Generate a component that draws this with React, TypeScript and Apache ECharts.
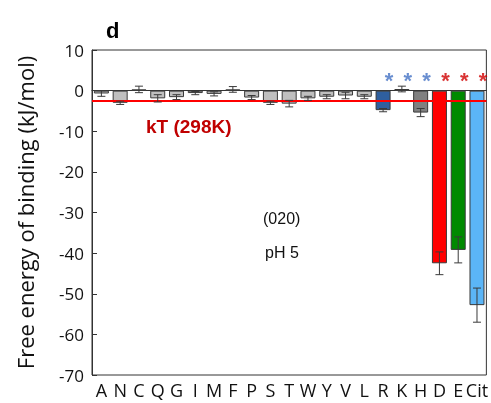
import React, { useEffect, useRef } from "react";
import * as echarts from "echarts";

const categories = ["A", "N", "C", "Q", "G", "I", "M", "F", "P", "S", "T", "W", "Y", "V", "L", "R", "K", "H", "D", "E", "Cit"];
const values = [-0.7, -3.0, 0.3, -1.9, -1.6, -0.6, -0.8, 0.3, -1.7, -3.0, -3.2, -1.9, -1.5, -1.2, -1.5, -4.8, 0.4, -5.4, -42.5, -39.2, -52.8];
const errors = [0.7, 0.4, 0.8, 0.9, 0.6, 0.4, 0.5, 0.7, 0.5, 0.4, 0.8, 0.5, 0.5, 0.8, 0.5, 0.4, 0.7, 1.0, 2.8, 3.2, 4.2];
const barColors = ["#BFBFBF", "#BFBFBF", "#BFBFBF", "#BFBFBF", "#BFBFBF", "#BFBFBF", "#BFBFBF", "#BFBFBF", "#BFBFBF", "#BFBFBF", "#BFBFBF", "#BFBFBF", "#BFBFBF", "#BFBFBF", "#BFBFBF", "#2F5F9E", "#BFBFBF", "#808080", "#FF0000", "#008A00", "#5BB5F7"];
const starCategories = ["R", "K", "H", "D", "E", "Cit"];
const starColors = ["#4472C4", "#4472C4", "#4472C4", "#D00000", "#D00000", "#D00000"];
const starLevel = 2.6;
const kT = -2.48;
const yTicks = { min: -70, max: 10, interval: 10 };

export default function App() {
  const ref = useRef<HTMLDivElement>(null);
  useEffect(() => {
    if (!ref.current) return;
    const chart = echarts.init(ref.current, null, { renderer: "svg" });
    const sans = "'Open Sans', 'Noto Sans', sans-serif";
    const arial = "'Liberation Sans', Arial, sans-serif";
    chart.setOption({
      animation: false,
      grid: { left: 92, right: -1, top: 50, bottom: 28, show: true, borderColor: "#333", borderWidth: 1, backgroundColor: "transparent" },
      xAxis: {
        type: "category",
        data: categories,
        axisLine: { lineStyle: { color: "#333", width: 1 } },
        axisTick: { inside: true, length: 5, alignWithLabel: true, lineStyle: { color: "#333" } },
        axisLabel: { fontSize: 18, fontFamily: sans, color: "#111", margin: 6, interval: 0 },
      },
      yAxis: {
        type: "value",
        min: yTicks.min,
        max: yTicks.max,
        interval: yTicks.interval,
        name: "Free energy of binding (kJ/mol)",
        nameLocation: "middle",
        nameGap: 56,
        nameTextStyle: { fontSize: 22, fontFamily: sans, color: "#111" },
        axisLine: { show: true, lineStyle: { color: "#333", width: 1 } },
        axisTick: { show: true, inside: true, length: 5, lineStyle: { color: "#333" } },
        splitLine: { show: false },
        axisLabel: { fontSize: 17, fontFamily: sans, color: "#111", margin: 8 },
      },
      series: [
        {
          type: "bar",
          barWidth: 15,
          data: values.map((v, i) => ({ value: v, itemStyle: { color: barColors[i] } })),
          itemStyle: { borderColor: "#3a3a3a", borderWidth: 1 },
          markLine: {
            silent: true,
            symbol: "none",
            label: { show: false },
            lineStyle: { color: "#FF0000", width: 2, type: "solid" },
            data: [{ yAxis: kT }],
          },
          z: 2,
        },
        {
          type: "custom",
          z: 5,
          data: categories.map((c, i) => [i, values[i], errors[i]]),
          renderItem: (params: any, api: any) => {
            const x = api.value(0);
            const v = api.value(1);
            const e = api.value(2);
            const top = api.coord([x, v + e]);
            const bot = api.coord([x, v - e]);
            const h = 4;
            const style = { stroke: "#3a3a3a", lineWidth: 1 };
            return {
              type: "group",
              children: [
                { type: "line", shape: { x1: top[0], y1: top[1], x2: bot[0], y2: bot[1] }, style },
                { type: "line", shape: { x1: top[0] - h, y1: top[1], x2: top[0] + h, y2: top[1] }, style },
                { type: "line", shape: { x1: bot[0] - h, y1: bot[1], x2: bot[0] + h, y2: bot[1] }, style },
              ],
            };
          },
        },
        {
          type: "scatter",
          symbolSize: 0,
          z: 6,
          data: starCategories.map((c, i) => ({
            value: [c, starLevel],
            label: {
              show: true,
              formatter: "*",
              position: "inside",
              offset: [6, 0],
              color: starColors[i],
              fontSize: 22,
              fontWeight: "bold",
              fontFamily: arial,
            },
          })),
        },
      ],
      graphic: [
        { type: "text", left: 106, top: 19, style: { text: "d", fontSize: 22, fontWeight: "bold", fontFamily: arial, fill: "#000" } },
        { type: "text", left: 146, top: 117, style: { text: "kT (298K)", fontSize: 19, fontWeight: "bold", fontFamily: arial, fill: "#C00000" } },
        { type: "text", left: 263, top: 210, style: { text: "(020)", fontSize: 16, fontFamily: arial, fill: "#111" } },
        { type: "text", left: 265, top: 244, style: { text: "pH 5", fontSize: 16, fontFamily: arial, fill: "#111" } },
      ],
    });
    return () => chart.dispose();
  }, []);
  return <div ref={ref} style={{ position: "fixed", left: 0, top: 0, width: 491, height: 403 }} />;
}
